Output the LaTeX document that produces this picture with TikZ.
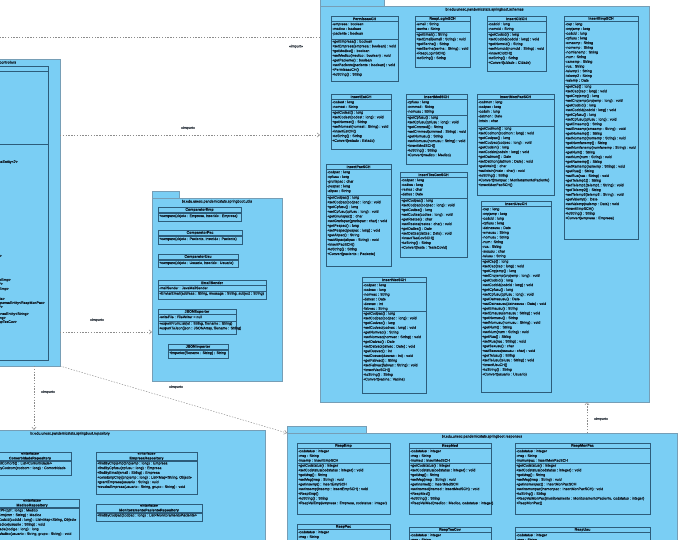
\documentclass[tikz,border=0pt]{standalone}
\usepackage{fontspec}
\setmainfont{Liberation Sans}[FakeBold=0.25]
\usetikzlibrary{arrows.meta, positioning}

\definecolor{pkgblue}{RGB}{122,206,244}
\definecolor{pkgedge}{RGB}{118,158,182}
\definecolor{clsedge}{RGB}{45,92,122}
\definecolor{inktext}{RGB}{15,25,35}
\definecolor{depgray}{RGB}{140,140,140}

\newcommand{\umlsize}{\fontsize{3.6}{4.7}\selectfont}
\newcommand{\hdrh}{5.6}

% class box: id, x1, y1, x2, y2, separator y, name, attributes, operations
\newcommand{\umlclass}[9]{%
  \node[classbox, minimum width={(#4)-(#2)}, minimum height={(#5)-(#3)}] (#1) at (#2,#3) {};
  \node[classname] (#1-name) at ({(#2+#4)/2},{#3+\hdrh/2}) {#7};
  \draw[clsline] (#2,{#3+\hdrh}) -- (#4,{#3+\hdrh});
  \draw[clsline] (#2,#6) -- (#4,#6);
  \node[members] (#1-attr) at ({#2+0.9},{#3+\hdrh+0.8}) {#8};
  \node[members] (#1-ops) at ({#2+0.9},{#6+0.8}) {#9};
}

% package: id, x1, y1, x2, y2, tab right x, title
\newcommand{\umlpackage}[7]{%
  \draw[pkgshape] (#2,{#3-6.5}) rectangle (#6,#3);
  \node[pkgbox, minimum width={(#4)-(#2)}, minimum height={(#5)-(#3)}] (#1) at (#2,#3) {};
  \node[pkgtitle] (#1-title) at ({(#2+#4)/2},{#3+3.6}) {#7};
}

\begin{document}
\begin{tikzpicture}[x=1pt, y=-1pt,
    classbox/.style={draw=clsedge, line width=0.5pt, fill=pkgblue, anchor=north west, inner sep=0pt, outer sep=0pt},
    clsline/.style={draw=clsedge, line width=0.5pt},
    classname/.style={font=\umlsize\bfseries, text=inktext, inner sep=0pt, align=center},
    members/.style={font=\umlsize, text=inktext, inner sep=0pt, anchor=north west, align=left},
    pkgbox/.style={draw=pkgedge, line width=0.7pt, fill=pkgblue, anchor=north west, inner sep=0pt, outer sep=0pt},
    pkgshape/.style={draw=pkgedge, line width=0.7pt, fill=pkgblue},
    pkgtitle/.style={font=\umlsize, text=inktext, inner sep=0pt},
    import/.style={draw=depgray, line width=0.45pt, dash pattern=on 1.4pt off 1.4pt, -{Straight Barb[length=2.6pt,width=4.2pt]}},
    importlabel/.style={font=\umlsize, text=inktext!85, inner sep=0pt}]

    \useasboundingbox[fill=white] (0,0) rectangle (684,539);

    % Packages
    \umlpackage{controllers}{-108}{59}{60}{366}{-80}{br.edu.unesc.pandemicstats.springboot.controllers}
    \umlpackage{schemas}{320}{6}{649}{402}{384}{br.edu.unesc.pandemicstats.springboot.schemas}
    \umlpackage{utils}{152}{198}{282}{381}{179}{br.edu.unesc.pandemicstats.springboot.utils}
    \umlpackage{repository}{-125}{430}{265}{600}{-90}{br.edu.unesc.pandemicstats.springboot.repository}
    \umlpackage{responses}{287}{433}{677}{600}{366}{br.edu.unesc.pandemicstats.springboot.responses}

    % Controllers (cut off at the left edge)
    \umlclass{ctrlclass}{-100}{66}{48}{360}{144}{}{}{}
    \foreach \yy/\xx/\txt [count=\k] in {
        162/18/{ResponseEntity<?>},
        256/2/{ResponseEntity<?>},
        280/11/{ResponseEntity<RespEmp>},
        284/3/{ResponseEntity<?>},
        289/9/{ResponseEntity<RespEmp>},
        299/5/{ResponseEntity<MonitoramentoPaciente>},
        303/45/{ResponseEntity<RespMonPac>},
        307/3/{ResponseEntity<?>},
        314/29/{ResponseEntity<String>},
        318/6/{ResponseEntity<String>},
        322/17/{ResponseEntity<RespTesCov>}} {
        \node[members, anchor=east] (ctrl-op\k) at (\xx,\yy) {\txt};
    }

    % Schemas
    \umlclass{permissao}{331}{16}{398}{81}{39}{PermissaoCH}
        {-empresa : boolean\\-medico : boolean\\-paciente : boolean}
        {+getEmpresa() : boolean\\+setEmpresa(empresa : boolean) : void\\+getMedico() : boolean\\+setMedico(medico : boolean) : void\\+getPaciente() : boolean\\+setPaciente(paciente : boolean) : void\\+PermissaoCH()\\+toString() : String}
    \umlclass{resplogin}{415}{16}{470}{67}{32}{RespLoginSCH}
        {-email : String\\-senha : String}
        {+getEmail() : String\\+setEmail(email : String) : void\\+getSenha() : String\\+setSenha(senha : String) : void\\+RespLoginSCH()\\+toString() : String}
    \umlclass{inscid}{487}{16}{546}{71}{32}{InsertCidCH}
        {-codcid : long\\-nomcid : String}
        {+getCodcid() : long\\+setCodcid(codcid : long) : void\\+getNomcid() : String\\+setNomcid(nomcid : String) : void\\+InsertCidCH()\\+toString() : String\\+Convert(cidade : Cidade)}
    \umlclass{insemp}{564}{16}{638}{239}{84}{InsertEmpSCH}
        {-cep : long\\-cnpjemp : long\\-codcid : long\\-cpfusu : long\\-emaemp : String\\-nomemp : String\\-nomfanemp : String\\-num : String\\-ramemp : String\\-rua : String\\-telemp1 : String\\-telemp2 : String\\-valemp : Date}
        {+getCep() : long\\+setCep(cep : long) : void\\+getCnpjemp() : long\\+setCnpjemp(cnpjemp : long) : void\\+getCodcid() : long\\+setCodcid(codcid : long) : void\\+getCpfusu() : long\\+setCpfusu(cpfusu : long) : void\\+getEmaemp() : String\\+setEmaemp(emaemp : String) : void\\+getNomemp() : String\\+setNomemp(nomemp : String) : void\\+getNomfanemp() : String\\+setNomfanemp(nomfanemp : String) : void\\+getNum() : String\\+setNum(num : String) : void\\+getRamemp() : String\\+setRamemp(ramemp : String) : void\\+getRua() : String\\+setRua(rua : String) : void\\+getTelemp1() : String\\+setTelemp1(telemp1 : String) : void\\+getTelemp2() : String\\+setTelemp2(telemp2 : String) : void\\+getValemp() : Date\\+setValemp(valemp : Date) : void\\+InsertEmpSCH()\\+toString() : String\\+Convert(empresa : Empresa)}
    \umlclass{insest}{331}{94}{391}{149}{110}{InsertEstCH}
        {-codest : long\\-nomest : String}
        {+getCodest() : long\\+setCodest(codest : long) : void\\+getNomest() : String\\+setNomest(nomest : String) : void\\+InsertEstCH()\\+toString() : String\\+Convert(estado : Estado)}
    \umlclass{insmed}{406}{94}{467}{164}{115}{InsertMedSCH}
        {-cpfusu : long\\-crmmed : String\\-nomusu : String}
        {+getCpfusu() : long\\+setCpfusu(cpfusu : long) : void\\+getCrmmed() : String\\+setCrmmed(crmmed : String) : void\\+getNomusu() : String\\+setNomusu(nomusu : String) : void\\+InsertMedSCH()\\+toString() : String\\+Convert(medico : Medico)}
    \umlclass{insmonpac}{477}{94}{554}{195}{126}{InsertMonPacSCH}
        {-codmon : long\\-codpac : long\\-codsin : long\\-datmon : Date\\-intsin : char}
        {+getCodmon() : long\\+setCodmon(codmon : long) : void\\+getCodpac() : long\\+setCodpac(codpac : long) : void\\+getCodsin() : long\\+setCodsin(codsin : long) : void\\+getDatmon() : Date\\+setDatmon(datmon : Date) : void\\+getIntsin() : char\\+setIntsin(intsin : char) : void\\+toString() : String\\+Convert(monpac : MonitoramentoPaciente)\\+InsertMonPacSCH()}
    \umlclass{inspac}{326}{164}{391}{266}{195}{InsertPacSCH}
        {-codpac : long\\-cpfusu : long\\-grurispac : char\\-pespac : long\\-altpac : String}
        {+getCodpac() : long\\+setCodpac(codpac : long) : void\\+getCpfusu() : long\\+setCpfusu(cpfusu : long) : void\\+getGrurispac() : char\\+setGrurispac(grurispac : char) : void\\+getPespac() : long\\+setPespac(pespac : long) : void\\+getAltpac() : String\\+setAltpac(altpac : String) : void\\+InsertPacSCH()\\+toString() : String\\+Convert(paciente : Paciente)}
    \umlclass{instescov}{400}{172}{467}{257}{198}{InsertTesCovSCH}
        {-codpac : long\\-codtes : long\\-restes : char\\-dattes : Date}
        {+getCodpac() : long\\+setCodpac(codpac : long) : void\\+getCodtes() : long\\+setCodtes(codtes : long) : void\\+getRestes() : char\\+setRestes(restes : char) : void\\+getDattes() : Date\\+setDattes(dattes : Date) : void\\+InsertTesCovSCH()\\+toString() : String\\+Convert(teste : TesteCovid)}
    \umlclass{insusu}{481}{201}{551}{392}{259}{InsertUsuCH}
        {-cep : long\\-cnpjemp : long\\-codcid : long\\-cpfusu : long\\-datnasusu : Date\\-emausu : String\\-nomusu : String\\-num : String\\-rua : String\\-sexusu : char\\-telusu : String}
        {+getCep() : long\\+setCep(cep : long) : void\\+getCnpjemp() : long\\+setCnpjemp(cnpjemp : long) : void\\+getCodcid() : long\\+setCodcid(codcid : long) : void\\+getCpfusu() : long\\+setCpfusu(cpfusu : long) : void\\+getDatnasusu() : Date\\+setDatnasusu(datnasusu : Date) : void\\+getEmausu() : String\\+setEmausu(emausu : String) : void\\+getNomusu() : String\\+setNomusu(nomusu : String) : void\\+getNum() : String\\+setNum(num : String) : void\\+getRua() : String\\+setRua(rua : String) : void\\+getSexusu() : char\\+setSexusu(sexusu : char) : void\\+getTelusu() : String\\+setTelusu(telusu : String) : void\\+InsertUsuCH()\\+toString() : String\\+Convert(usuario : Usuario)}
    \umlclass{insvac}{362}{277}{426}{393}{311}{InsertVacSCH}
        {-codpac : long\\-codvac : long\\-nomvac : String\\-datvac : Date\\-dosvac : int\\-fabvac : String}
        {+getCodpac() : long\\+setCodpac(codpac : long) : void\\+getCodvac() : long\\+setCodvac(codvac : long) : void\\+getNomvac() : String\\+setNomvac(nomvac : String) : void\\+getDatvac() : Date\\+setDatvac(datvac : Date) : void\\+getDosvac() : int\\+setDosvac(dosvac : int) : void\\+getFabvac() : String\\+setFabvac(fabvac : String) : void\\+InsertVacSCH()\\+toString() : String\\+Convert(vacina : Vacina)}

    % Utils
    \umlclass{cmpemp}{158}{207}{241}{221}{213.4}{ComparatorEmp}{}
        {+compare(objeto : Empresa, inserido : Empresa)}
    \umlclass{cmppac}{158}{230}{242}{244}{236.4}{ComparatorPac}{}
        {+compare(objeto : Paciente, inserido : Paciente)}
    \umlclass{cmpusu}{158}{254}{238}{267}{260.4}{ComparatorUsu}{}
        {+compare(objeto : Usuario, inserido : Usuario)}
    \umlclass{emailsender}{158}{280}{266}{299}{291}{EmailSender}
        {-mailSender : JavaMailSender}
        {+EnviarEmail(address : String, message : String, subject : String)}
    \umlclass{jsonexp}{158}{309}{236}{334}{321}{JSONExporter}
        {-writeFile : FileWriter = null}
        {+exportFromList(lst : String, filename : String)\\+exportToJson(json : JSONArray, filename : String)}
    \umlclass{jsonimp}{168}{344}{228}{358}{350.4}{JSONImporter}{}
        {+importer(filename : String) : String}

    % Repository interfaces
    \renewcommand{\hdrh}{8.2}
    \umlclass{comorbrep}{-11}{452}{71}{475}{460.8}{{\mdseries <<interface>>}\\ComorbidadeRepository}{}
        {+findAllComorb() : List<Comorbidade>\\+findByCodcom(codcom : long) : Comorbidade}
    \umlclass{empresarep}{96}{452}{197}{494}{460.8}{{\mdseries <<interface>>}\\EmpresaRepository}{}
        {+findByCnpjemp(cnpjemp : long) : Empresa\\+findByCpfusu(cpfusu : long) : Empresa\\+findByEmail(email : String) : Empresa\\+consEmpCnpj(cnpjemp : long) : List<Map<String, Object>>\\+grantEmpresa(usuario : String) : void\\+revokeEmpresa(usuario : String, grupo : String) : void}
    \umlclass{medicorep}{-15}{499}{79}{580}{507.8}{{\mdseries <<interface>>}\\MedicoRepository}{}
        {+findByCPF(cpf : long) : Medico\\+findByCrm(crm : String) : Medico\\+findByCodcid(codcid : long) : List<Map<String, Object>>\\+grantMedico(usuario : String) : void\\+findCidade(codigo : long) : long\\+revokeMedico(usuario : String, grupo : String) : void}
    \umlclass{monpacrep}{96}{504}{202}{521}{512.8}{{\mdseries <<interface>>}\\MonitoramentoPacienteRepository}{}
        {+findByCodpac(codpac : long) : List<MonitoramentoPaciente>}
    \renewcommand{\hdrh}{5.6}

    % Responses
    \umlclass{respemp}{297}{443}{390}{514}{463}{RespEmp}
        {-codstatus : integer\\-msg : String\\-insemp : InsertEmpSCH}
        {+getCodstatus() : integer\\+setCodstatus(codstatus : integer) : void\\+getMsg() : String\\+setMsg(msg : String) : void\\+getInsemp() : InsertEmpSCH\\+setInsemp(insemp : InsertEmpSCH) : void\\+RespEmp()\\+toString() : String\\+RespValEmp(empresa : Empresa, codstatus : integer)}
    \umlclass{respmed}{409}{443}{491}{514}{463}{RespMed}
        {-codstatus : integer\\-msg : String\\-insmed : InsertMedSCH}
        {+getCodstatus() : integer\\+setCodstatus(codstatus : integer) : void\\+getMsg() : String\\+setMsg(msg : String) : void\\+getInsmed() : InsertMedSCH\\+setInsmed(insmed : InsertMedSCH) : void\\+RespMed()\\+toString() : String\\+RespValMed(medico : Medico, codstatus : integer)}
    \umlclass{respmonpac}{515}{443}{650}{514}{463}{RespMonPac}
        {-codstatus : integer\\-msg : String\\-insmonpac : InsertMonPacSCH}
        {+getCodstatus() : integer\\+setCodstatus(codstatus : integer) : void\\+getMsg() : String\\+setMsg(msg : String) : void\\+getInsmonpac() : InsertMonPacSCH\\+setInsmonpac(insmonpac : InsertMonPacSCH) : void\\+toString() : String\\+RespValMonPac(monitoramento : MonitoramentoPaciente, codstatus : integer)\\+RespMonPac()}
    \umlclass{resppac}{297}{524}{390}{580}{560}{RespPac}
        {-codstatus : integer\\-msg : String\\-inspac : InsertPacSCH}{}
    \umlclass{resptescov}{409}{527}{491}{580}{560}{RespTesCov}
        {-codstatus : integer\\-msg : String\\-instescov : InsertTesCovSCH}{}
    \umlclass{respusu}{515}{527}{650}{580}{560}{RespUsu}
        {-codstatus : integer\\-msg : String\\-insusu : InsertUsuCH}{}

    % Imports
    \coordinate (offleft) at (-10,37);
    \draw[import, -] (schemas.west |- offleft) -- (offleft);
    \draw[import] (controllers.east |- 0,135) -- (schemas.west |- 0,135);
    \draw[import] (controllers.east |- 0,332) -- (utils.west |- 0,332);
    \draw[import] (controllers.south -| 34,0) -- (repository.north -| 34,0);
    \draw[import] (controllers.south east) -- (responses.north west);
    \draw[import] (responses.north -| 587,0) -- (schemas.south -| 587,0);

    \node[importlabel] (lbl-top) at (296,46.5) {<<import>>};
    \node[importlabel] (lbl-schemas) at (188,128) {<<import>>};
    \node[importlabel] (lbl-utils) at (97,320) {<<import>>};
    \node[importlabel] (lbl-repo) at (48,392) {<<import>>};
    \node[importlabel] (lbl-resp) at (176,387) {<<import>>};
    \node[importlabel] (lbl-up) at (601,419) {<<import>>};
\end{tikzpicture}
\end{document}
